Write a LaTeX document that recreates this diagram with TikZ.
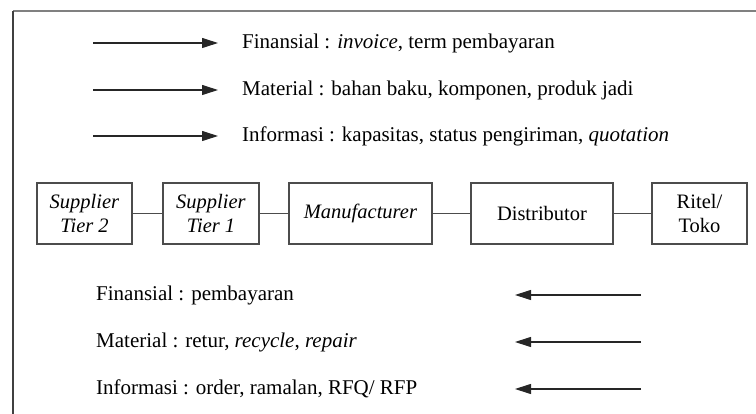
\documentclass[tikz,border=0pt]{standalone}
\usepackage{fontspec}
\setmainfont{Liberation Serif}
\usetikzlibrary{arrows.meta}
\begin{document}
\begin{tikzpicture}[x=1pt,y=-1pt,
  chainbox/.style={draw=black!70, line width=1.1pt, rectangle, inner sep=0pt,
    minimum height=61pt, align=center, font=\fontsize{20.5}{24}\selectfont},
  label/.style={anchor=west, inner sep=0pt, font=\fontsize{21}{25}\selectfont},
  link/.style={draw=black!70, line width=1.1pt},
  flow/.style={draw=black!85, line width=1.1pt, -{Triangle[length=16pt,width=10pt]}},
  frameline/.style={line width=1.2pt}]
\useasboundingbox (0,0) rectangle (756,414);
% frame
\coordinate (fc) at (13,11);
\coordinate (fr) at (756,11);
\coordinate (fb) at (13,414);
\draw[frameline, draw=black!50] (fc) -- (fr);
\draw[frameline, draw=black!75] (fc) -- (fb);
% top legend
\coordinate (ta1) at (93,43);  \coordinate (tb1) at (218,43);
\coordinate (ta2) at (93,90);  \coordinate (tb2) at (218,90);
\coordinate (ta3) at (93,136); \coordinate (tb3) at (218,136);
\draw[flow] (ta1) -- (tb1);
\draw[flow] (ta2) -- (tb2);
\draw[flow] (ta3) -- (tb3);
\node[label] (t1) at (242,43) {Finansial : \textit{invoice}, term pembayaran};
\node[label] (t2) at (242,90) {Material : bahan baku, komponen, produk jadi};
\node[label] (t3) at (242,136) {Informasi : kapasitas, status pengiriman, \textit{quotation}};
% chain
\node[chainbox, minimum width=95pt] (s2) at (84.5,213.5) {\textit{Supplier}\\\textit{Tier 2}};
\node[chainbox, minimum width=96pt] (s1) at (211,213.5) {\textit{Supplier}\\\textit{Tier 1}};
\node[chainbox, minimum width=143pt] (m) at (360.5,213.5) {\textit{Manufacturer}};
\node[chainbox, minimum width=142pt] (d) at (542,213.5) {Distributor};
\node[chainbox, minimum width=95pt] (r) at (699.5,213.5) {Ritel/\\Toko};
\draw[link] (s2) -- (s1);
\draw[link] (s1) -- (m);
\draw[link] (m) -- (d);
\draw[link] (d) -- (r);
% bottom legend
\node[label] (b1) at (96,295) {Finansial : pembayaran};
\node[label] (b2) at (96,342) {Material : retur, \textit{recycle}, \textit{repair}};
\node[label] (b3) at (96,389) {Informasi : order, ramalan, RFQ/ RFP};
\coordinate (ba1) at (641,295); \coordinate (bb1) at (515,295);
\coordinate (ba2) at (641,342); \coordinate (bb2) at (515,342);
\coordinate (ba3) at (641,389); \coordinate (bb3) at (515,389);
\draw[flow] (ba1) -- (bb1);
\draw[flow] (ba2) -- (bb2);
\draw[flow] (ba3) -- (bb3);
\end{tikzpicture}
\end{document}
